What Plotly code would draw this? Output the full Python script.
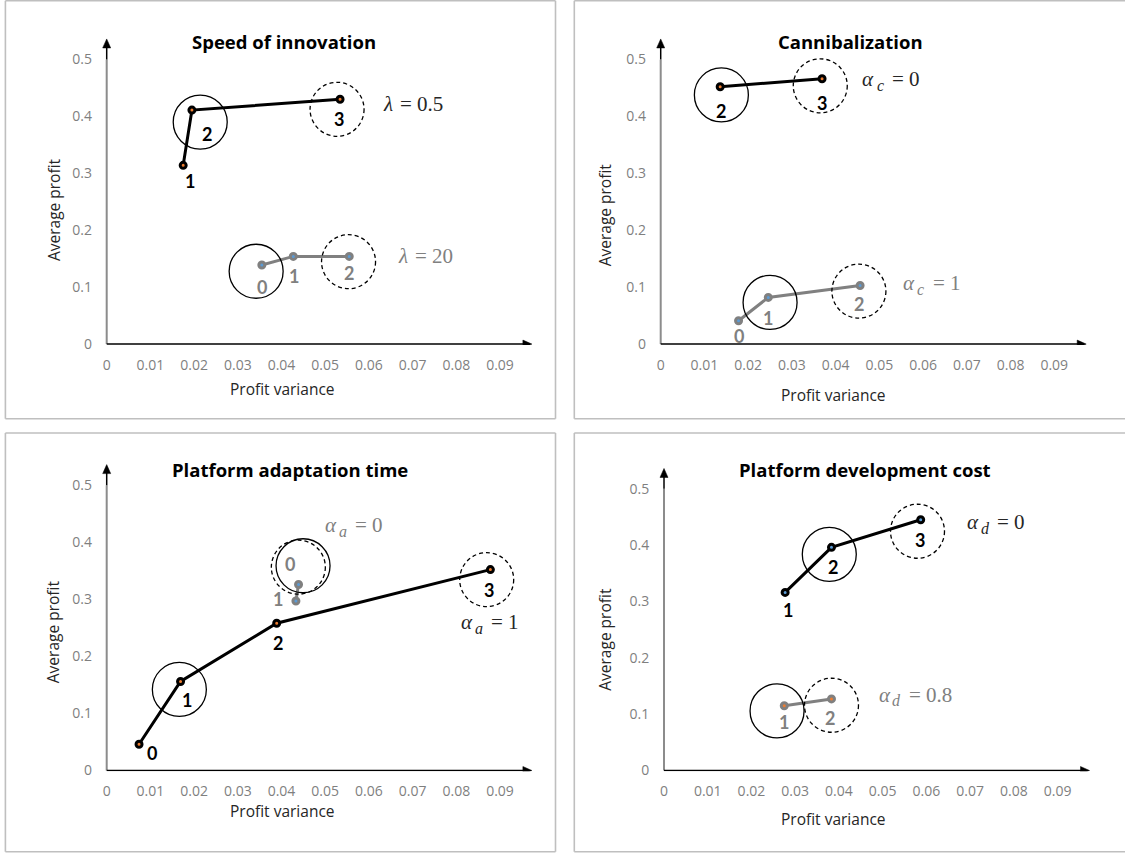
import plotly.graph_objects as go

W, H = 1125, 864

# ------------------------------------------------------------------ data
x_ticks = [0, 0.01, 0.02, 0.03, 0.04, 0.05, 0.06, 0.07, 0.08, 0.09]
x_tick_text = ["0", "0.01", "0.02", "0.03", "0.04", "0.05", "0.06", "0.07", "0.08", "0.09"]
y_ticks = [0, 0.1, 0.2, 0.3, 0.4, 0.5]
y_tick_text = ["0", "0.1", "0.2", "0.3", "0.4", "0.5"]

panel_titles = ["Speed of innovation", "Cannibalization",
                "Platform adaptation time", "Platform development cost"]
x_title = "Profit variance"
y_title = "Average profit"

# series names: (symbol, subscript, value)
# Speed of innovation
speed_a_var = [0.0175, 0.0195, 0.0534]
speed_a_profit = [0.314, 0.411, 0.430]
speed_a_labels = ["1", "2", "3"]
speed_a_name = ("λ", "", "= 0.5")
speed_b_var = [0.0355, 0.0427, 0.0555]
speed_b_profit = [0.139, 0.154, 0.154]
speed_b_labels = ["0", "1", "2"]
speed_b_name = ("λ", "", "= 20")

# Cannibalization
cann_a_var = [0.0136, 0.0369]
cann_a_profit = [0.452, 0.466]
cann_a_labels = ["2", "3"]
cann_a_name = ("α", "c", "= 0")
cann_b_var = [0.0178, 0.0246, 0.0456]
cann_b_profit = [0.041, 0.082, 0.103]
cann_b_labels = ["0", "1", "2"]
cann_b_name = ("α", "c", "= 1")

# Platform adaptation time
adapt_a_var = [0.0074, 0.0169, 0.0389, 0.0878]
adapt_a_profit = [0.046, 0.156, 0.258, 0.352]
adapt_a_labels = ["0", "1", "2", "3"]
adapt_a_name = ("α", "a", "= 1")
adapt_b_var = [0.0439, 0.0433]
adapt_b_profit = [0.326, 0.297]
adapt_b_labels = ["0", "1"]
adapt_b_name = ("α", "a", "= 0")

# Platform development cost
dev_a_var = [0.0277, 0.0383, 0.0587]
dev_a_profit = [0.316, 0.396, 0.445]
dev_a_labels = ["1", "2", "3"]
dev_a_name = ("α", "d", "= 0")
dev_b_var = [0.0275, 0.0383]
dev_b_profit = [0.115, 0.127]
dev_b_labels = ["1", "2"]
dev_b_name = ("α", "d", "= 0.8")

# highlighted points (index of point inside solid / dashed circle)
speed_a_solid, speed_a_dashed = 1, 2
speed_b_solid, speed_b_dashed = 0, 2
cann_a_solid, cann_a_dashed = 0, 1
cann_b_solid, cann_b_dashed = 1, 2
adapt_a_solid, adapt_a_dashed = 1, 3
adapt_b_solid, adapt_b_dashed = 0, 0
dev_a_solid, dev_a_dashed = 1, 2
dev_b_solid, dev_b_dashed = 0, 1

# ------------------------------------------------------------------ styles
BLACK, GRAY, ORANGE, BLUE = "#000000", "#808080", "#ED7D31", "#5B9BD5"
DARK = "#262626"
XR = [-0.002, 0.1]
YR = [-0.0015, 0.55]
R = 27  # highlight circle radius, px
X_TIP, Y_TIP = 0.0973, 0.536   # axis arrow tips (data units)
HEAD_L, HEAD_W = 9, 4          # arrow head length / half width, px
SERIF = "Liberation Serif"

# axis placement (pixel position of data 0 and pixels per unit)
geo = [
    dict(x0=106.7, sx=4370, y0=347.3, sy=574.6),
    dict(x0=660.7, sx=4373, y0=347.3, sy=574.6),
    dict(x0=106.7, sx=4370, y0=777.7, sy=576.0),
    dict(x0=664.0, sx=4373, y0=777.7, sy=568.8),
]
# panel frames: left, top, right, bottom (px); right side drawn or not
borders = [(5.4, 0.8, 555.5, 422.7, True), (574.3, 0.8, 1125, 422.7, False),
           (5.4, 437, 555.5, 859.7, True), (574.3, 437, 1125, 859.7, False)]
title_px = [(283.8, 41.7), (850.7, 41.7), (289.7, 473.7), (864.8, 473.7)]
xtitle_px = [(282, 392.3), (833, 398.3), (282, 818.7), (833, 826.3)]
ytitle_px = [(53.3, 211.7), (605, 217.3), (53.3, 637.8), (605, 645.7)]

# name label: left x, centre y (px), subscript centre offset, value offset (px)
panels = [
    dict(series=[
        dict(x=speed_a_var, y=speed_a_profit, lab=speed_a_labels, name=speed_a_name,
             solid=speed_a_solid, dashed=speed_a_dashed, line=BLACK, dot=ORANGE, txt=BLACK,
             namecol=DARK, namepx=(380.7, 105.3, 0, 17.7),
             lab_off=[(6.7, 16), (15, 24), (-1, 19.3)], s_off=(8.3, 12), d_off=(-3, 10)),
        dict(x=speed_b_var, y=speed_b_profit, lab=speed_b_labels, name=speed_b_name,
             solid=speed_b_solid, dashed=speed_b_dashed, line=GRAY, dot=BLUE, txt=GRAY,
             namecol=GRAY, namepx=(396, 258.7, 0, 16.7),
             lab_off=[(0, 22), (1, 20), (-0.7, 16.7)], s_off=(-5.7, 6.3), d_off=(-0.7, 5.3)),
    ]),
    dict(series=[
        dict(x=cann_a_var, y=cann_a_profit, lab=cann_a_labels, name=cann_a_name,
             solid=cann_a_solid, dashed=cann_a_dashed, line=BLACK, dot=ORANGE, txt=BLACK,
             namecol=DARK, namepx=(860, 80, 20, 30),
             lab_off=[(1.3, 24), (0, 24.3)], s_off=(1.2, 8.2), d_off=(-1.8, 7)),
        dict(x=cann_b_var, y=cann_b_profit, lab=cann_b_labels, name=cann_b_name,
             solid=cann_b_solid, dashed=cann_b_dashed, line=GRAY, dot=BLUE, txt=GRAY,
             namecol=GRAY, namepx=(900.7, 286, 20, 30),
             lab_off=[(0, 15), (0, 20.7), (-1, 19)], s_off=(1.8, 5), d_off=(-1.2, 5.7)),
    ]),
    dict(series=[
        dict(x=adapt_a_var, y=adapt_a_profit, lab=adapt_a_labels, name=adapt_a_name,
             solid=adapt_a_solid, dashed=adapt_a_dashed, line=BLACK, dot=ORANGE, txt=BLACK,
             namecol=DARK, namepx=(459.3, 628, 20, 30),
             lab_off=[(12.7, 8.7), (6.7, 18.3), (1, 20), (-1, 20.7)], s_off=(-1.2, 8), d_off=(-3.7, 10)),
        dict(x=adapt_b_var, y=adapt_b_profit, lab=adapt_b_labels, name=adapt_b_name,
             solid=adapt_b_solid, dashed=adapt_b_dashed, line=GRAY, dot=BLUE, txt=GRAY,
             namecol=GRAY, namepx=(323.3, 530.3, 20, 30),
             lab_off=[(-8.7, -20.3), (-17.7, -1.7)], s_off=(4.5, -18.7), d_off=(-0.2, -17.3)),
    ]),
    dict(series=[
        dict(x=dev_a_var, y=dev_a_profit, lab=dev_a_labels, name=dev_a_name,
             solid=dev_a_solid, dashed=dev_a_dashed, line=BLACK, dot=BLUE, txt=BLACK,
             namecol=DARK, namepx=(965, 527, 20, 30),
             lab_off=[(3.3, 18), (1.7, 19.3), (-0.7, 20.7)], s_off=(-2.2, 7), d_off=(-3.2, 11.5)),
        dict(x=dev_b_var, y=dev_b_profit, lab=dev_b_labels, name=dev_b_name,
             solid=dev_b_solid, dashed=dev_b_dashed, line=GRAY, dot=ORANGE, txt=GRAY,
             namecol=GRAY, namepx=(876.7, 701.3, 20, 30),
             lab_off=[(0, 16.7), (-1.3, 18.7)], s_off=(-7.2, 5.2), d_off=(0, 6.3)),
    ]),
]


def px(xp, yp):
    return xp / W, 1 - yp / H


fig = go.Figure()
layout = dict(width=W, height=H, margin=dict(l=0, r=0, t=0, b=0),
              paper_bgcolor="white", plot_bgcolor="white", showlegend=False)
shapes, annotations = [], []
frame_line = dict(color="#bfbfbf", width=1.6)

for i, p in enumerate(panels):
    n = i + 1
    sfx = "" if n == 1 else str(n)
    xa, ya = "x" + sfx, "y" + sfx
    g = geo[i]
    dom_x = [(g["x0"] + XR[0] * g["sx"]) / W, (g["x0"] + XR[1] * g["sx"]) / W]
    dom_y = [1 - (g["y0"] - YR[0] * g["sy"]) / H, 1 - (g["y0"] - YR[1] * g["sy"]) / H]
    layout["xaxis" + sfx] = dict(domain=dom_x, range=XR, anchor=ya, tickvals=x_ticks,
                                 ticktext=x_tick_text, showgrid=False, zeroline=False,
                                 showline=False, ticks="", ticklabelstandoff=10,
                                 tickfont=dict(family="Open Sans", size=14, color="#7f7f7f"),
                                 fixedrange=True)
    layout["yaxis" + sfx] = dict(domain=dom_y, range=YR, anchor=xa, tickvals=y_ticks,
                                 ticktext=y_tick_text, showgrid=False, zeroline=False,
                                 showline=False, ticks="", ticklabelstandoff=5,
                                 tickfont=dict(family="Open Sans", size=14, color="#7f7f7f"),
                                 fixedrange=True)

    # panel frame
    bx0, by0, bx1, by1, right = borders[i]
    (fx0, fy1), (fx1, fy0) = px(bx0, by0), px(bx1, by1)
    segs = [(fx0, fy1, fx1, fy1), (fx0, fy0, fx1, fy0), (fx0, fy0, fx0, fy1)]
    if right:
        segs.append((fx1, fy0, fx1, fy1))
    for (a0, b0, a1, b1) in segs:
        shapes.append(dict(type="line", xref="paper", yref="paper", x0=a0, y0=b0, x1=a1, y1=b1,
                           line=frame_line, layer="below"))

    # axes: gray y line to 0.5, black shafts and arrow heads
    shapes.append(dict(type="line", xref=xa, yref=ya, x0=0, x1=0, y0=0, y1=y_ticks[-1],
                       line=dict(color="#8c8c8c", width=2), layer="below"))
    shapes.append(dict(type="line", xref=xa, yref=ya, x0=0, x1=0, y0=y_ticks[-1],
                       y1=Y_TIP - 4 / g["sy"], line=dict(color="black", width=1.5)))
    shapes.append(dict(type="line", xref=xa, yref=ya, x0=0, x1=X_TIP - 4 / g["sx"], y0=0, y1=0,
                       line=dict(color="black", width=1.5)))
    shapes.append(dict(type="path", xref=xa, yref=ya, xsizemode="pixel", ysizemode="pixel",
                       xanchor=X_TIP, yanchor=0,
                       path=f"M0,0 L{-HEAD_L},{HEAD_W} L{-HEAD_L},{-HEAD_W} Z",
                       fillcolor="black", line=dict(color="black", width=0.5)))
    shapes.append(dict(type="path", xref=xa, yref=ya, xsizemode="pixel", ysizemode="pixel",
                       xanchor=0, yanchor=Y_TIP,
                       path=f"M0,0 L{-HEAD_W},{-HEAD_L} L{HEAD_W},{-HEAD_L} Z",
                       fillcolor="black", line=dict(color="black", width=0.5)))

    # titles
    tx, ty = px(*title_px[i])
    annotations.append(dict(xref="paper", yref="paper", x=tx, y=ty, text="<b>" + panel_titles[i] + "</b>",
                            showarrow=False, xanchor="center", yanchor="middle",
                            font=dict(family="Open Sans", size=18.5, color="black")))
    tx, ty = px(*xtitle_px[i])
    annotations.append(dict(xref="paper", yref="paper", x=tx, y=ty, text=x_title, showarrow=False,
                            xanchor="center", yanchor="middle",
                            font=dict(family="Open Sans", size=15.5, color="#262626")))
    tx, ty = px(*ytitle_px[i])
    annotations.append(dict(xref="paper", yref="paper", x=tx, y=ty, text=y_title, showarrow=False,
                            xanchor="center", yanchor="middle", textangle=-90,
                            font=dict(family="Open Sans", size=15.5, color="#262626")))

    for s in p["series"]:
        fig.add_trace(go.Scatter(x=s["x"], y=s["y"], mode="lines+markers", xaxis=xa, yaxis=ya,
                                 line=dict(color=s["line"], width=3),
                                 marker=dict(size=6, color=s["dot"], line=dict(color=s["line"], width=3)),
                                 hoverinfo="skip", cliponaxis=False))
        for k, lab in enumerate(s["lab"]):
            dx, dy = s["lab_off"][k]
            annotations.append(dict(xref=xa, yref=ya, x=s["x"][k], y=s["y"][k], text="<b>" + lab + "</b>",
                                    showarrow=False, xshift=dx, yshift=-dy, xanchor="center",
                                    yanchor="middle", font=dict(family="Lato", size=18, color=s["txt"])))
        for key, dash in (("solid", "solid"), ("dashed", "4px,3px")):
            idx = s[key]
            dx, dy = s["s_off"] if key == "solid" else s["d_off"]
            shapes.append(dict(type="circle", xref=xa, yref=ya, xsizemode="pixel", ysizemode="pixel",
                               xanchor=s["x"][idx], yanchor=s["y"][idx],
                               x0=dx - R, x1=dx + R, y0=-dy - R, y1=-dy + R,
                               line=dict(color="black", width=1.3, dash=dash), layer="above"))
        # series name: symbol, subscript, value
        sym, sub, val = s["name"]
        lx, ly, sub_dx, val_dx = s["namepx"]
        tx, ty = px(lx, ly)
        annotations.append(dict(xref="paper", yref="paper", x=tx, y=ty, text="<i>" + sym + "</i>",
                                showarrow=False, xanchor="left", yanchor="middle",
                                font=dict(family=SERIF, size=21, color=s["namecol"])))
        if sub:
            tx, ty = px(lx + sub_dx, ly + 6)
            annotations.append(dict(xref="paper", yref="paper", x=tx, y=ty, text="<i>" + sub + "</i>",
                                    showarrow=False, xanchor="center", yanchor="middle",
                                    font=dict(family=SERIF, size=16, color=s["namecol"])))
        tx, ty = px(lx + val_dx, ly)
        annotations.append(dict(xref="paper", yref="paper", x=tx, y=ty, text=val,
                                showarrow=False, xanchor="left", yanchor="middle",
                                font=dict(family=SERIF, size=21, color=s["namecol"])))

layout["shapes"] = shapes
layout["annotations"] = annotations
fig.update_layout(**layout)
fig.write_html("out.html", config={"displayModeBar": False},
               post_script="document.body.style.margin='0';document.body.style.overflow='hidden';")
